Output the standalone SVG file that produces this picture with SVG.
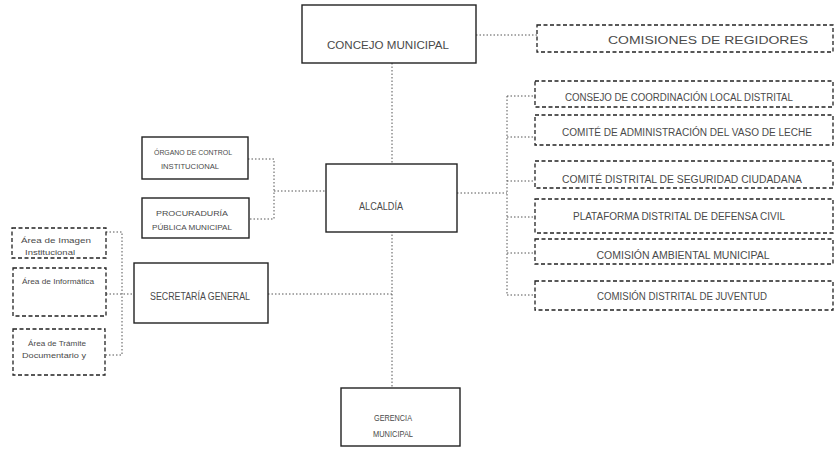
<svg xmlns="http://www.w3.org/2000/svg" width="835" height="450" viewBox="0 0 835 450">
<style>
.solid{fill:#fff;stroke:#222;stroke-width:1.4}
.dash{fill:#fff;stroke:#222;stroke-width:1.3;stroke-dasharray:4 2.5}
.con{fill:none;stroke:#555;stroke-width:1;stroke-dasharray:1.5 2}
text{font-family:"Liberation Sans",Arial,sans-serif;fill:#4a4a4a;text-anchor:middle}
.t11{font-size:11px}
.t10{font-size:10px}
.t9{font-size:9px}
.t8{font-size:8px}
</style>
<rect width="835" height="450" fill="#fff"/>
<g id="connectors">
<path class="con" d="M392 63V163M392 231V388"/>
<path class="con" d="M476 35H537"/>
<path class="con" d="M457 193H507M507 96V295M507 96H535M507 137H535M507 181H535M507 217H535M507 253H535M507 295H535"/>
<path class="con" d="M248 159H274V219H248M274 191H326"/>
<path class="con" d="M268 294H392"/>
<path class="con" d="M106 232H122V355H106M106 294H134"/>
</g>
<g id="concejo"><rect class="solid" x="302" y="5" width="174" height="58"/><text class="t11" x="388" y="49" textLength="122" lengthAdjust="spacingAndGlyphs">CONCEJO MUNICIPAL</text></g>
<g id="comisiones"><rect class="dash" x="537" y="25" width="296" height="27"/><text class="t10" x="708" y="44" textLength="200" lengthAdjust="spacingAndGlyphs">COMISIONES DE REGIDORES</text></g>
<g id="consejo-coordinacion"><rect class="dash" x="535" y="81" width="298" height="26"/><text class="t10" x="679" y="101" textLength="228" lengthAdjust="spacingAndGlyphs">CONSEJO DE COORDINACIÓN LOCAL DISTRITAL</text></g>
<g id="vaso-leche"><rect class="dash" x="535" y="115" width="298" height="30"/><text class="t10" x="687" y="136" textLength="250" lengthAdjust="spacingAndGlyphs">COMITÉ DE ADMINISTRACIÓN DEL VASO DE LECHE</text></g>
<g id="seguridad"><rect class="dash" x="535" y="161" width="298" height="27"/><text class="t10" x="682" y="183" textLength="240" lengthAdjust="spacingAndGlyphs">COMITÉ DISTRITAL DE SEGURIDAD CIUDADANA</text></g>
<g id="defensa-civil"><rect class="dash" x="535" y="199" width="298" height="34"/><text class="t10" x="679" y="220" textLength="212" lengthAdjust="spacingAndGlyphs">PLATAFORMA DISTRITAL DE DEFENSA CIVIL</text></g>
<g id="ambiental"><rect class="dash" x="535" y="239" width="298" height="25"/><text class="t10" x="683" y="259" textLength="173" lengthAdjust="spacingAndGlyphs">COMISIÓN AMBIENTAL MUNICIPAL</text></g>
<g id="juventud"><rect class="dash" x="535" y="281" width="298" height="29"/><text class="t10" x="682" y="300" textLength="170" lengthAdjust="spacingAndGlyphs">COMISIÓN DISTRITAL DE JUVENTUD</text></g>
<g id="alcaldia"><rect class="solid" x="326" y="164" width="131" height="68"/><text class="t10" x="381" y="210" textLength="44" lengthAdjust="spacingAndGlyphs">ALCALDÍA</text></g>
<g id="organo"><rect class="solid" x="142" y="137" width="106" height="42"/><text class="t8" x="193" y="155" textLength="78" lengthAdjust="spacingAndGlyphs">ÓRGANO DE CONTROL</text><text class="t8" x="190" y="169" textLength="58" lengthAdjust="spacingAndGlyphs">INSTITUCIONAL</text></g>
<g id="procuraduria"><rect class="solid" x="142" y="198" width="107" height="40"/><text class="t8" x="192" y="216" textLength="72" lengthAdjust="spacingAndGlyphs">PROCURADURÍA</text><text class="t8" x="192" y="230" textLength="80" lengthAdjust="spacingAndGlyphs">PÚBLICA MUNICIPAL</text></g>
<g id="secretaria"><rect class="solid" x="134" y="263" width="134" height="60"/><text class="t10" x="200" y="300" textLength="100" lengthAdjust="spacingAndGlyphs">SECRETARÍA GENERAL</text></g>
<g id="area-imagen"><rect class="dash" x="12" y="228" width="94" height="30"/><text class="t8" x="56" y="243" textLength="70" lengthAdjust="spacingAndGlyphs">Área de Imagen</text><text class="t8" x="50" y="255" textLength="50" lengthAdjust="spacingAndGlyphs">Institucional</text></g>
<g id="area-informatica"><rect class="dash" x="13" y="268" width="93" height="48"/><text class="t8" x="58" y="284" textLength="72" lengthAdjust="spacingAndGlyphs">Área de Informática</text></g>
<g id="area-tramite"><rect class="dash" x="13" y="329" width="92" height="46"/><text class="t8" x="57" y="346" textLength="58" lengthAdjust="spacingAndGlyphs">Área de Trámite</text><text class="t8" x="54" y="358" textLength="64" lengthAdjust="spacingAndGlyphs">Documentario y</text></g>
<g id="gerencia"><rect class="solid" x="341" y="388" width="119" height="58"/><text class="t9" x="393" y="421" textLength="38" lengthAdjust="spacingAndGlyphs">GERENCIA</text><text class="t9" x="393" y="437" textLength="40" lengthAdjust="spacingAndGlyphs">MUNICIPAL</text></g>
</svg>
